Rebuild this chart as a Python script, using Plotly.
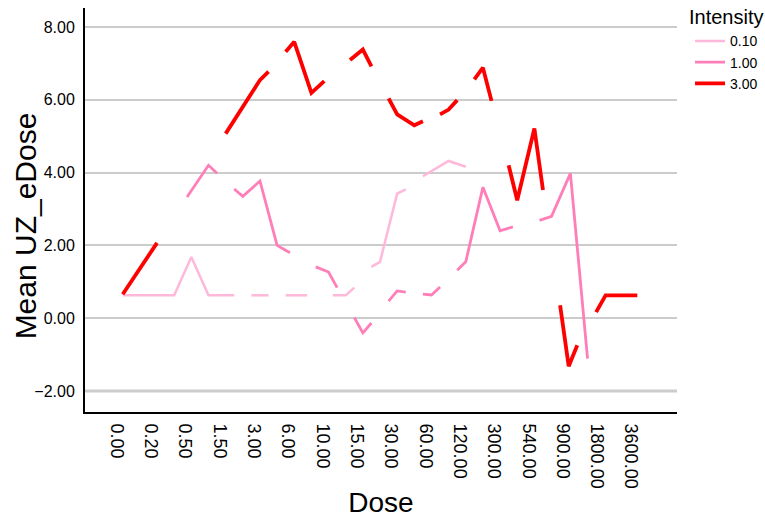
import plotly.graph_objects as go

# ---- data ----
dose_labels = ["0.00", "0.20", "0.50", "1.50", "3.00", "6.00", "10.00", "15.00",
               "30.00", "60.00", "120.00", "300.00", "540.00", "900.00", "1800.00", "3600.00"]
# category positions (4 sub-steps per labelled dose); None = break in the line
low_pos = [0, 6, 8, 10, 13, None, 15, 17, None, 19, 21.5, None, 24.5, 26, 27, None,
           29, 30, 32, 33, None, 35, 38, 40]
low_val = [0.63, 0.63, 1.68, 0.63, 0.63, None, 0.63, 0.63, None, 0.63, 0.63, None,
           0.63, 0.63, 0.84, None, 1.41, 1.55, 3.42, 3.54, None, 3.90, 4.32, 4.16]

med_pos = [7.5, 10, 11, None, 13, 14, 16, 18, 19.5, None, 22.5, 24, 25, None,
           27, 28, 29, None, 31, 32, 33, None, 35, 36, 37, None,
           39, 40, 42, 44, 45.5, None, 48.6, 50, 52.2, 54.2]
med_val = [3.33, 4.20, 3.98, None, 3.55, 3.35, 3.77, 2.00, 1.80, None, 1.41, 1.27, 0.84, None,
           0.02, -0.40, -0.13, None, 0.47, 0.75, 0.72, None, 0.66, 0.64, 0.86, None,
           1.32, 1.55, 3.60, 2.40, 2.51, None, 2.69, 2.80, 3.98, -1.11]

high_pos = [0, 4, None, 12, 16, 17, None, 19, 20, 22, 23.5, None, 26.5, 28, 29, None,
            31, 32, 34, 35, None, 37, 38, 39, None, 41, 42, 43, None,
            45, 46, 48, 49, None, 51, 52, 53, None, 55.2, 56.3, 60]
high_val = [0.66, 2.07, None, 5.07, 6.54, 6.77, None, 7.32, 7.59, 6.19, 6.51, None, 7.09, 7.38, 6.92, None,
            6.04, 5.60, 5.30, 5.41, None, 5.60, 5.73, 5.99, None, 6.56, 6.88, 5.97, None,
            4.20, 3.24, 5.21, 3.52, None, 0.36, -1.32, -0.74, None, 0.17, 0.63, 0.63]

series_names = ["0.10", "1.00", "3.00"]
y_ticks = [-2, 0, 2, 4, 6, 8]

FONT = "Liberation Sans, Arial, sans-serif"

fig = go.Figure()
for name, xs, ys, color, w in [
    (series_names[0], low_pos, low_val, "#FFB8DA", 2.5),
    (series_names[1], med_pos, med_val, "#FF7EB8", 2.8),
    (series_names[2], high_pos, high_val, "#FF0000", 3.8),
]:
    fig.add_trace(go.Scatter(x=xs, y=ys, mode="lines", name=name,
                             line=dict(color=color, width=w), connectgaps=False))

fig.add_hline(y=min(y_ticks), line=dict(color="#CCCCCC", width=3), layer="below")

# legend title and y-axis title as text annotations
fig.add_annotation(text="Intensity", xref="paper", yref="paper",
                   x=1.017, y=0.978, xanchor="left", yanchor="middle",
                   showarrow=False, font=dict(size=20, color="black"))
fig.add_annotation(text="Mean UZ_eDose", xref="paper", yref="paper",
                   x=-0.101, y=0.46, xanchor="center", yanchor="middle",
                   textangle=-90, showarrow=False, font=dict(size=30, color="black"))

fig.update_layout(
    width=765, height=518,
    margin=dict(l=85, r=88, t=8, b=106, autoexpand=False),
    plot_bgcolor="white", paper_bgcolor="white",
    font=dict(family=FONT, color="black"),
    legend=dict(
        font=dict(size=14, color="black"),
        x=1.022, y=0.957, xanchor="left", yanchor="top",
        itemwidth=30, tracegroupgap=0, bgcolor="rgba(0,0,0,0)",
    ),
    xaxis=dict(
        range=[-4.4, 64.63],
        tickmode="array",
        tickvals=[4 * i for i in range(len(dose_labels))],
        ticktext=dose_labels,
        tickangle=90,
        tickfont=dict(size=18, color="black"),
        showgrid=False, zeroline=False,
        showline=True, linecolor="black", linewidth=2,
        ticks="", ticklabelstandoff=6, ticklabelshift=-6,
        title=dict(text="Dose", font=dict(size=28, color="black"), standoff=10),
    ),
    yaxis=dict(
        range=[-2.574, 8.52],
        tickmode="array",
        tickvals=y_ticks,
        tickformat=".2f",
        tickfont=dict(size=16, color="black"),
        showgrid=True, gridcolor="#CCCCCC", gridwidth=1.5,
        zeroline=False,
        showline=True, linecolor="black", linewidth=2,
        ticks="", ticklabelstandoff=5,
    ),
)

fig.write_html("out.html")
